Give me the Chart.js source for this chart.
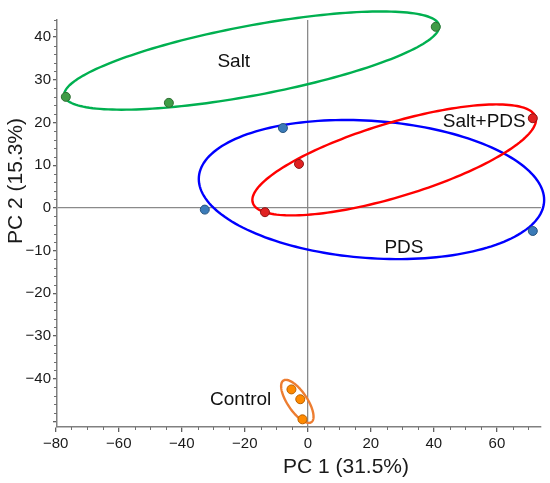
<!DOCTYPE html>
<html>
<head>
<meta charset="utf-8">
<script src="https://cdn.jsdelivr.net/npm/chart.js@4"></script>
<style>
  html, body { margin: 0; padding: 0; background: #fff; }
  #wrap { width: 550px; height: 483px; position: relative; }
</style>
</head>
<body>
<div id="wrap"><canvas id="chart"></canvas></div>
<script>
// PCA scores
const saltX = [-76.8, -44.1, 40.6];
const saltY = [26.0, 24.6, 42.4];
const pdsX = [-32.7, -7.9, 71.4];
const pdsY = [-0.4, 18.7, -5.4];
const saltPdsX = [-13.6, -2.8, 71.4];
const saltPdsY = [-1.0, 10.3, 21.0];
const controlX = [-5.2, -2.4, -1.7];
const controlY = [-42.5, -44.8, -49.5];

const groupNames = ["Salt", "PDS", "Salt+PDS", "Control"];

// ellipse: centre, first half-axis vector, conjugate half-axis vector (data units)
const saltEllipse = [-17.8, 34.5, 59.5, 7.96, 0, 8.3];
const pdsEllipse = [20.2, 4.3, 54.8, -2.46, 0, 16.1];
const saltPdsEllipse = [27.4, 11.24, 45.0, 9.37, 0, 9.0];
const controlEllipse = [-3.33, -45.3, 5.14, -3.56, 0, 3.56];

const xTicks = [-80, -60, -40, -20, 0, 20, 40, 60];
const yTicks = [-50, -40, -30, -20, -10, 0, 10, 20, 30, 40];

const font = "'Liberation Sans', Arial, sans-serif";

function toPoints(xs, ys) {
  return xs.map((x, i) => ({ x: x, y: ys[i] }));
}

function fmt(v) {
  return v < 0 ? "\u2212" + Math.abs(v) : String(v);
}

const groups = [
  { name: groupNames[0], xs: saltX, ys: saltY, ell: saltEllipse, fill: "#3f9c46", edge: "#2b6b30", line: "#00b050", label: [-23.5, 34.2] },
  { name: groupNames[1], xs: pdsX, ys: pdsY, ell: pdsEllipse, fill: "#3b7bb8", edge: "#28557f", line: "#0000ff", label: [30.5, -9.4] },
  { name: groupNames[2], xs: saltPdsX, ys: saltPdsY, ell: saltPdsEllipse, fill: "#e02222", edge: "#8f1414", line: "#ff0000", label: [56.0, 20.1] },
  { name: groupNames[3], xs: controlX, ys: controlY, ell: controlEllipse, fill: "#ff8a00", edge: "#b86000", line: "#ed7d31", label: [-21.3, -45.0] },
];

const extras = {
  id: "extras",
  beforeDatasetsDraw(chart) {
    const ctx = chart.ctx;
    const xs = chart.scales.x;
    const ys = chart.scales.y;
    ctx.save();
    groups.forEach((g) => {
      const e = g.ell;
      ctx.beginPath();
      for (let i = 0; i <= 180; i++) {
        const t = (i / 180) * Math.PI * 2;
        const px = xs.getPixelForValue(e[0] + e[2] * Math.cos(t) + e[4] * Math.sin(t));
        const py = ys.getPixelForValue(e[1] + e[3] * Math.cos(t) + e[5] * Math.sin(t));
        if (i === 0) ctx.moveTo(px, py);
        else ctx.lineTo(px, py);
      }
      ctx.closePath();
      ctx.strokeStyle = g.line;
      ctx.lineWidth = 2.4;
      ctx.stroke();
    });
    ctx.restore();
  },
  afterDraw(chart) {
    const ctx = chart.ctx;
    const xs = chart.scales.x;
    const ys = chart.scales.y;
    const area = chart.chartArea;
    ctx.save();
    // minor ticks
    ctx.strokeStyle = "#707070";
    ctx.lineWidth = 1;
    for (let v = -75; v <= 70; v += 5) {
      if (v % 20 === 0) continue;
      const px = Math.round(xs.getPixelForValue(v)) + 0.5;
      ctx.beginPath();
      ctx.moveTo(px, area.bottom);
      ctx.lineTo(px, area.bottom + 3);
      ctx.stroke();
    }
    for (let v = -50; v <= 44; v += 2) {
      if (v % 10 === 0) continue;
      const py = Math.round(ys.getPixelForValue(v)) + 0.5;
      ctx.beginPath();
      ctx.moveTo(area.left, py);
      ctx.lineTo(area.left - 3, py);
      ctx.stroke();
    }
    // group names
    ctx.fillStyle = "#111";
    ctx.font = "19px " + font;
    ctx.textAlign = "center";
    ctx.textBaseline = "middle";
    groups.forEach((g) => {
      ctx.fillText(g.name, xs.getPixelForValue(g.label[0]), ys.getPixelForValue(g.label[1]));
    });
    // axis titles
    ctx.font = "21px " + font;
    ctx.fillStyle = "#1a1a1a";
    ctx.fillText("PC 1 (31.5%)", area.left + 289, area.bottom + 40);
    ctx.translate(16, area.top + 161);
    ctx.rotate(-Math.PI / 2);
    ctx.fillText("PC 2 (15.3%)", 0, 0);
    ctx.restore();
  },
};

const zeroLine = (c) => (c.tick && c.tick.value === 0 ? "#8a8a8a" : "rgba(0,0,0,0)");

new Chart(document.getElementById("chart"), {
  type: "scatter",
  data: {
    datasets: groups.map((g) => ({
      label: g.name,
      data: toPoints(g.xs, g.ys),
      backgroundColor: g.fill,
      borderColor: g.edge,
      borderWidth: 1,
      pointRadius: 4.5,
    })),
  },
  options: {
    responsive: true,
    maintainAspectRatio: false,
    animation: false,
    layout: { padding: { left: 0, top: 20, right: 9, bottom: 0 } },
    plugins: {
      legend: { display: false },
      tooltip: { enabled: false },
    },
    scales: {
      x: {
        type: "linear",
        min: -79.6,
        max: 74,
        afterBuildTicks: (scale) => {
          scale.ticks = xTicks.map((v) => ({ value: v }));
        },
        afterFit: (scale) => {
          scale.height = 56;
        },
        ticks: {
          autoSkip: false,
          maxRotation: 0,
          padding: 3,
          color: "#1a1a1a",
          font: { family: font, size: 15 },
          callback: (v) => fmt(v),
        },
        grid: { color: zeroLine, lineWidth: 1.3, tickColor: "#606060", tickLength: 5 },
        border: { color: "#808080", width: 1.5 },
      },
      y: {
        type: "linear",
        min: -51.3,
        max: 44,
        afterBuildTicks: (scale) => {
          scale.ticks = yTicks.map((v) => ({ value: v }));
        },
        afterFit: (scale) => {
          scale.width = 57;
        },
        ticks: {
          autoSkip: false,
          padding: 2,
          color: "#1a1a1a",
          font: { family: font, size: 15 },
          callback: (v) => (v === -50 ? "" : fmt(v)),
        },
        grid: { color: zeroLine, lineWidth: 1.3, tickColor: "#606060", tickLength: 4 },
        border: { color: "#808080", width: 1.5 },
      },
    },
  },
  plugins: [extras],
});
</script>
</body>
</html>
